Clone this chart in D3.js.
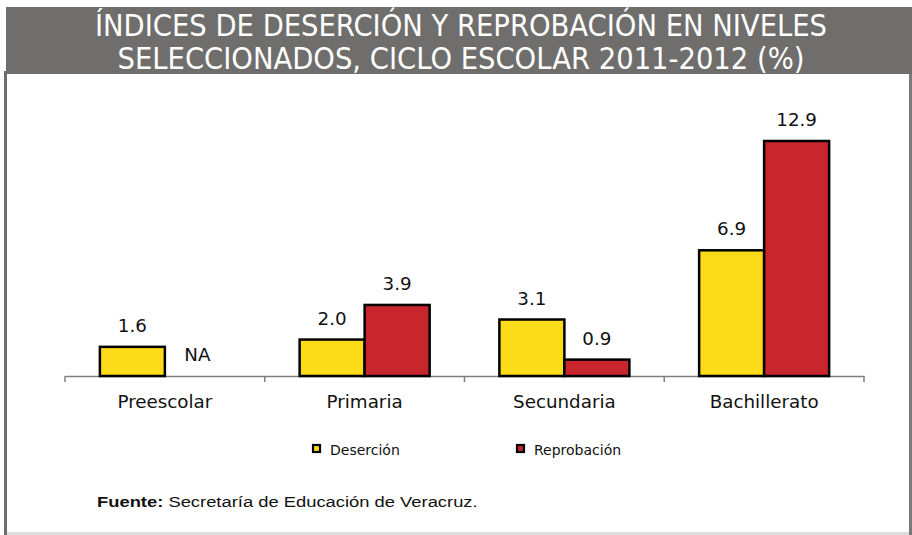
<!DOCTYPE html>
<html>
<head>
<meta charset="utf-8">
<script src="https://cdn.jsdelivr.net/npm/d3@7"></script>
<style>
  body { margin: 0; background: #fff; }
  svg { display: block; }
</style>
</head>
<body>
<svg id="chart" width="912" height="535"></svg>
<script>
let categories = ["Preescolar", "Primaria", "Secundaria", "Bachillerato"];
let series = ["Deserción", "Reprobación"];
let desercion = [1.6, 2.0, 3.1, 6.9];
let reprobacion = [null, 3.9, 0.9, 12.9];
let titleLines = ["ÍNDICES DE DESERCIÓN Y REPROBACIÓN EN NIVELES",
                  "SELECCIONADOS, CICLO ESCOLAR 2011-2012 (%)"];

let colors = {"Deserción": "#fcdc19", "Reprobación": "#c8252d"};

let svg = d3.select('#chart');

// frame + title band
svg.append("rect").attr("x", 6).attr("y", 7).attr("width", 906).attr("height", 67).attr("fill", "#6f6e6c");
svg.append("rect").attr("x", 4).attr("y", 71).attr("width", 3).attr("height", 464).attr("fill", "#6f6e6c");
svg.append("rect").attr("x", 909).attr("y", 74).attr("width", 3).attr("height", 461).attr("fill", "#7a7a7a");
svg.append("rect").attr("x", 7).attr("y", 532).attr("width", 902).attr("height", 3).attr("fill", "#dcdcdc");

svg.selectAll(".title")
    .data(titleLines)
    .enter()
    .append("text")
    .attr("x", 461)
    .attr("y", (d, i) => 36 + i * 33)
    .attr("text-anchor", "middle")
    .attr("fill", "#fff")
    .style("font-family", "'DejaVu Sans Condensed', 'DejaVu Sans'")
    .style("font-stretch", "condensed")
    .style("font-size", "30.5px")
    .text(d => d);

let x = d3.scaleBand().domain(categories).range([65, 864]);
let y = d3.scaleLinear().domain([0, 12.9]).range([376, 141]);
let xs = d3.scaleBand().domain(series).range([0, 130]);
let offset = (x.bandwidth() - 130) / 2;

// axis
let axis = svg.append("g")
    .attr("transform", "translate(0,376)")
    .call(d3.axisBottom(x).tickSize(0).tickFormat(""));
axis.select(".domain").attr("stroke", "#7f7f7f").attr("stroke-width", 1.5);
let tickPos = categories.map(c => x(c)).concat([x.range()[1]]);
svg.selectAll(".tk")
    .data(tickPos)
    .enter()
    .append("line")
    .attr("x1", d => d).attr("x2", d => d)
    .attr("y1", 376).attr("y2", 382)
    .attr("stroke", "#7f7f7f").attr("stroke-width", 1.5);

svg.selectAll(".cat")
    .data(categories)
    .enter()
    .append("text")
    .attr("x", d => x(d) + x.bandwidth() / 2)
    .attr("y", 408)
    .attr("text-anchor", "middle")
    .style("font-family", "'DejaVu Sans'")
    .style("font-size", "18.3px")
    .attr("fill", "#111")
    .text(d => d);

// bars
let rows = [];
categories.forEach((c, i) => {
    rows.push({cat: c, s: "Deserción", v: desercion[i]});
    rows.push({cat: c, s: "Reprobación", v: reprobacion[i]});
});

svg.selectAll(".bar")
    .data(rows.filter(d => d.v != null))
    .enter()
    .append("rect")
    .attr("x", d => x(d.cat) + offset + xs(d.s))
    .attr("y", d => y(d.v))
    .attr("width", xs.bandwidth())
    .attr("height", d => y(0) - y(d.v))
    .attr("fill", d => colors[d.s])
    .attr("stroke", "#000")
    .attr("stroke-width", 2.5);

svg.selectAll(".lbl")
    .data(rows)
    .enter()
    .append("text")
    .attr("x", d => x(d.cat) + offset + xs(d.s) + xs.bandwidth() / 2)
    .attr("y", d => d.v == null ? 361 : y(d.v) - 15)
    .attr("text-anchor", "middle")
    .style("font-family", "'DejaVu Sans'")
    .style("font-size", "18.3px")
    .attr("fill", "#111")
    .text(d => d.v == null ? "NA" : d.v.toFixed(1));

// legend
let legX = [313, 517];
let leg = svg.selectAll(".leg")
    .data(series)
    .enter()
    .append("g")
    .attr("transform", (d, i) => "translate(" + legX[i] + ",445)");
leg.append("rect")
    .attr("width", 7).attr("height", 7)
    .attr("fill", d => colors[d])
    .attr("stroke", "#000").attr("stroke-width", 2.2);
leg.append("text")
    .attr("x", 17).attr("y", 9.5)
    .style("font-family", "'DejaVu Sans'")
    .style("font-size", "14px")
    .attr("fill", "#111")
    .text(d => d);

// source (stretched wide like the original)
let srcG = svg.append("g").attr("transform", "translate(97,507)");
let src = srcG.append("text")
    .style("font-family", "'Liberation Sans', Arial")
    .style("font-size", "15.5px")
    .attr("fill", "#111");
src.append("tspan").style("font-weight", "bold").text("Fuente:");
src.append("tspan").text(" Secretaría de Educación de Veracruz.");
let srcW = src.node().getBBox().width;
src.attr("transform", "scale(" + (381 / srcW) + ",1)");
</script>
</body>
</html>
